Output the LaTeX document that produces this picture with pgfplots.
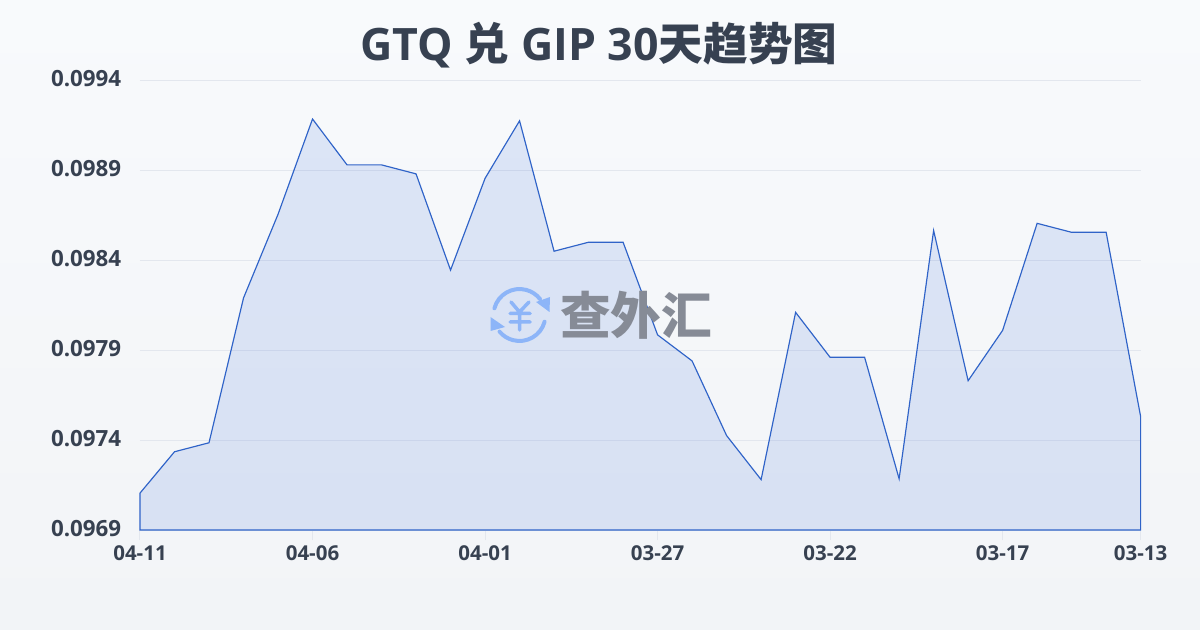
\documentclass[border=0pt]{standalone}
\usepackage{pgfplots}
\usepackage{fontspec}
\pgfplotsset{compat=1.18}
\setmainfont{Open Sans}
\newfontfamily\cjk{Noto Sans CJK SC}
\definecolor{bgtop}{HTML}{F8FAFC}
\definecolor{bgbot}{HTML}{F2F4F7}
\definecolor{ink}{HTML}{374151}
\definecolor{lineblue}{HTML}{2F63C8}
\definecolor{fillblue}{HTML}{2F63D8}
\definecolor{gridc}{HTML}{E3E7EE}
\definecolor{logoblue}{HTML}{8DB5F8}
\definecolor{logogray}{HTML}{868B96}
\pgfplotstableread{
idx val
0 0.097105
1 0.097335
2 0.097385
3 0.098190
4 0.098655
5 0.099185
6 0.098930
7 0.098930
8 0.098880
9 0.098345
10 0.098855
11 0.099175
12 0.098450
13 0.098500
14 0.098500
15 0.097985
16 0.097840
17 0.097425
18 0.097180
19 0.098110
20 0.097860
21 0.097860
22 0.097185
23 0.098565
24 0.097730
25 0.098010
26 0.098605
27 0.098555
28 0.098555
29 0.097530
}\ratedata
\begin{document}
\begin{tikzpicture}[x=0.6pt,y=-0.6pt]
\shade[top color=bgtop,bottom color=bgbot,draw=none] (0,0) rectangle (1200,630);
\begin{axis}[
  at={(140pt*0.6,-530pt*0.6)},anchor=south west,
  scale only axis,width=600.4pt,height=269.8pt,
  xmin=0,xmax=29,ymin=0.0969,ymax=0.0994,
  axis line style={draw=none},
  xtick={0,5,10,15,20,25,29},
  xticklabels={04-11,04-06,04-01,03-27,03-22,03-17,03-13},
  ytick={0.0969,0.0974,0.0979,0.0984,0.0989,0.0994},
  yticklabels={0.0969,0.0974,0.0979,0.0984,0.0989,0.0994},
  scaled y ticks=false,
  ymajorgrids,
  grid style={gridc,line width=0.6pt},
  major tick length=6pt,
  xtick pos=bottom,ytick pos=left,
  xtick style={draw=gridc,line width=0.6pt},
  ytick style={draw=none},
  tick align=outside,
  xticklabel style={font=\fontsize{12.3pt}{14pt}\selectfont\bfseries,text=ink,yshift=0pt},
  yticklabel style={font=\fontsize{13.4pt}{15pt}\selectfont\bfseries,text=ink,xshift=-1.8pt,yshift=1pt},
  clip=false,
]
\addplot[draw=lineblue,line width=0.7pt,fill=fillblue,fill opacity=0.135,sharp plot] table[x=idx,y=val]{\ratedata} \closedcycle;
\end{axis}
\node[text=ink,font=\fontsize{26.8pt}{32pt}\selectfont\bfseries] at (599,45) {GTQ {\cjk\bfseries 兑} GIP 30{\cjk\bfseries 天趋势图}};
\draw[logoblue,line width=2.4pt,line cap=round] (494.4,308.3) arc[start angle=165,end angle=38,radius=15.6pt];
\draw[logoblue,line width=2.4pt,line cap=round] (544.6,321.7) arc[start angle=-15,end angle=-140,radius=15.6pt];
\fill[logoblue] (549.5,312) -- (550,297) -- (536,302) -- cycle;
\fill[logoblue] (490.5,317) -- (490.5,331) -- (505,327) -- cycle;
\draw[logoblue,line width=2.1pt,line cap=round,line join=round] (511,302) -- (519.5,312) -- (529,302) (510,313.5) -- (530,313.5) (510,322) -- (530,322) (519.5,312) -- (519.5,330);
\node[text=logogray,font=\fontsize{30.4pt}{32pt}\selectfont\cjk\bfseries,anchor=center] at (636,315) {查外汇};
\end{tikzpicture}
\end{document}
